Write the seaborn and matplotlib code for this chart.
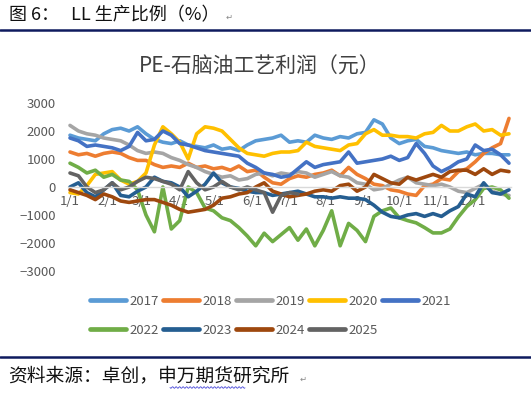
import numpy as np
import pandas as pd
import matplotlib
matplotlib.use("Agg")
import matplotlib.pyplot as plt
import seaborn as sns
from matplotlib.lines import Line2D

years = ["2017", "2018", "2019", "2020", "2021", "2022", "2023", "2024", "2025"]
colors = ["#5B9BD5", "#ED7D31", "#A5A5A5", "#FFC000", "#4472C4",
          "#70AD47", "#255E91", "#9E480E", "#636363"]

month_ticks = [0, 31, 59, 90, 120, 151, 181, 212, 243, 273, 304, 334]
month_labels = ["1/1", "2/1", "3/1", "4/1", "5/1", "6/1", "7/1", "8/1",
                "9/1", "10/1", "11/1", "12/1"]

# weekly values (day of year = 7 * week index)
v2017 = [1850, 1750, 1700, 1650, 1900, 2050, 2100, 2000, 2150, 1900, 1700, 1600, 1550,
         1650, 1500, 1450, 1400, 1500, 1350, 1400, 1300, 1500, 1650, 1700, 1750, 1850,
         1600, 1650, 1600, 1850, 1750, 1700, 1800, 1750, 1900, 1950, 2400, 2250, 1750,
         1550, 1650, 1700, 1450, 1400, 1300, 1250, 1200, 1250, 1150, 1200, 1200, 1150, 1150]
v2018 = [1250, 1150, 1200, 1100, 1200, 1250, 1200, 1050, 950, 950, 800, 700, 750,
         700, 850, 700, 750, 650, 700, 600, 750, 550, 600, 350, 150, 100,
         300, 400, 350, 450, 500, 600, 400, 700, 450, 300, 100, 50, -100,
         -150, -250, -300, 50, 100, 300, 250, 550, 650, 900, 1200, 1400, 1550, 2450]
v2019 = [2200, 2000, 1900, 1850, 1750, 1700, 1650, 1500, 1300, 1200, 1250, 1200, 1050,
         950, 800, 700, 550, 450, 350, 400, 250, 300, 450, 500, 400, 500,
         450, 550, 500, 350, 450, 550, 400, 350, 150, 100, -100, -50, 100,
         250, 350, 150, 100, 50, 100, 0, -150, -200, -50, 100, -150, -250, -300]
v2020 = [-200, -250, 50, 450, 500, 550, 250, 100, 200, 500, 1500, 2150, 1900,
         1600, 1000, 1900, 2150, 2100, 2000, 1700, 1400, 1200, 1150, 1100, 1200, 1250,
         1250, 1300, 1600, 1450, 1400, 1350, 1300, 1500, 1550, 1900, 2050, 1850, 1850,
         1800, 1800, 1750, 1900, 1950, 2200, 2000, 2000, 2150, 2250, 2000, 2050, 1850, 1900]
v2021 = [1750, 1650, 1450, 1500, 1450, 1400, 1300, 1450, 1950, 1650, 1700, 2000, 1850,
         1550, 1500, 1400, 1300, 1250, 1200, 1150, 1100, 850, 700, 500, 450, 350,
         400, 650, 900, 700, 800, 850, 900, 1250, 850, 900, 950, 1000, 1100,
         950, 1050, 1550, 1200, 750, 550, 700, 900, 1000, 1500, 1300, 1350, 1150, 850]
v2022 = [850, 700, 500, 600, 350, 450, 250, 200, -100, -1000, -1600, 0, -1500,
         -1200, 0, -200, -750, -850, -1100, -1200, -1450, -1750, -2100, -1650, -1950, -1700,
         -1450, -1900, -1500, -2100, -1550, -850, -2100, -1300, -1550, -1950, -1050, -850, -750,
         -1100, -1200, -1280, -1450, -1640, -1640, -1500, -1070, -700, -450, -50, 0, -100, -400]
v2023 = [0, 150, -200, -350, -100, 150, -300, -350, -150, 0, 350, 200, 150,
         0, -350, -150, 100, 500, 150, 0, -50, -150, -200, -200, -300, -250,
         -200, -150, -250, -350, -350, -400, -350, -400, -400, -450, -650, -900, -1050,
         -1100, -1000, -950, -1050, -950, -1050, -850, -700, -250, -350, 150, -200, -250, -100]
v2024 = [-100, -200, -300, -450, -250, -350, -500, -550, -500, -450, -450, -550, -650,
         -800, -900, -850, -800, -650, -400, -350, -250, -200, 0, 150, -150, -250,
         -350, -300, -250, -150, -100, -150, 50, 100, -150, 0, 450, 300, 150,
         100, 350, 250, 350, 450, 350, 550, 600, 600, 450, 650, 450, 600, 550]
v2025 = [500, 400, 0, -200, -100, 150, -100, 0, 200, 350, 300, 200, 100,
         -100, 550, 150, -100, 0, 200, 0, -100, 0, -100, -200, -900, -300,
         -200, -250]

series = [v2017, v2018, v2019, v2020, v2021, v2022, v2023, v2024, v2025]

rows = []
for yr, vals in zip(years, series):
    for i, v in enumerate(vals):
        rows.append({"day": i * 7, "value": v, "year": yr})
df = pd.DataFrame(rows)

sns.set_theme(style="white")
plt.rcParams["font.family"] = ["Noto Sans CJK SC", "DejaVu Sans"]

W, H = 531, 394
fig = plt.figure(figsize=(W / 100, H / 100), dpi=100)

def fx(px):
    return px / W

def fy(py):
    return 1 - py / H

ax_left, ax_right = 68, 511
ax_top, ax_bottom = 103, 271
ax = fig.add_axes([fx(ax_left), fy(ax_bottom), fx(ax_right - ax_left), (ax_bottom - ax_top) / H])

palette = dict(zip(years, colors))
sns.lineplot(data=df, x="day", y="value", hue="year", hue_order=years,
             palette=palette, linewidth=2.6, legend=False, ax=ax,
             estimator=None, sort=False)

scale = (509 - 70) / 364.0
ax.set_xlim(-(70 - ax_left) / scale, 364 + (ax_right - 509) / scale)
ax.set_ylim(-3000, 3000)
ax.set_yticks([-3000, -2000, -1000, 0, 1000, 2000, 3000])
ax.set_yticklabels(["\u22123000", "\u22122000", "\u22121000", "0", "1000", "2000", "3000"])
ax.set_xticks(month_ticks)
ax.set_xticklabels(month_labels)
ax.set_xlabel("")
ax.set_ylabel("")
for s in ["top", "right", "left"]:
    ax.spines[s].set_visible(False)
ax.spines["bottom"].set_position(("data", 0))
ax.spines["bottom"].set_color("#D9D9D9")
ax.spines["bottom"].set_linewidth(1.0)
ax.tick_params(axis="x", length=0, pad=6, labelsize=9.5, labelcolor="#595959")
ax.tick_params(axis="y", length=0, pad=9, labelsize=9.5, labelcolor="#595959")
ax.set_axisbelow(True)
ax.grid(False)
ax.patch.set_alpha(0)

# chart title
fig.text(fx(260), fy(67), "PE-石脑油工艺利润（元）", ha="center", va="center",
         fontsize=15, color="#404040")

# legend (row-wise order with 5 columns)
order = [0, 5, 1, 6, 2, 7, 3, 8, 4]
handles = [Line2D([0], [0], color=colors[i], lw=3.4, solid_capstyle="round") for i in order]
labels = [years[i] for i in order]
fig.legend(handles, labels, loc="upper left", bbox_to_anchor=(fx(90), fy(295)),
           ncol=5, frameon=False, fontsize=9.5, handlelength=2.75,
           handletextpad=0.25, columnspacing=0.3, labelspacing=1.2,
           borderpad=0, borderaxespad=0, labelcolor="#595959")

# header and footer
navy = "#0E1A5E"
fig.add_artist(Line2D([0, 1], [fy(30), fy(30)], color=navy, lw=1.8, transform=fig.transFigure))
fig.add_artist(Line2D([0, 1], [fy(357), fy(357)], color=navy, lw=1.8, transform=fig.transFigure))
fig.text(fx(9), fy(15), "图 6：   LL 生产比例（%）", ha="left", va="center",
         fontsize=13, color="#111111")
fig.text(fx(226), fy(17), "\u21b5", ha="left", va="center", fontsize=6,
         color="#888888", family=["DejaVu Sans"])
fig.text(fx(8), fy(376), "资料来源：卓创，申万期货研究所", ha="left", va="center",
         fontsize=13.5, color="#111111")
fig.text(fx(300), fy(379), "\u21b5", ha="left", va="center", fontsize=6,
         color="#888888", family=["DejaVu Sans"])
# spell-check wavy underline under 申万期货
xs = np.linspace(170, 245, 120)
ys = 387.5 + 0.8 * np.sin((xs - 170) * 2 * np.pi / 3.5)
fig.add_artist(Line2D(xs / W, 1 - ys / H, color="#4848D8", lw=0.6, transform=fig.transFigure))

fig.savefig("out.png", dpi=100)
